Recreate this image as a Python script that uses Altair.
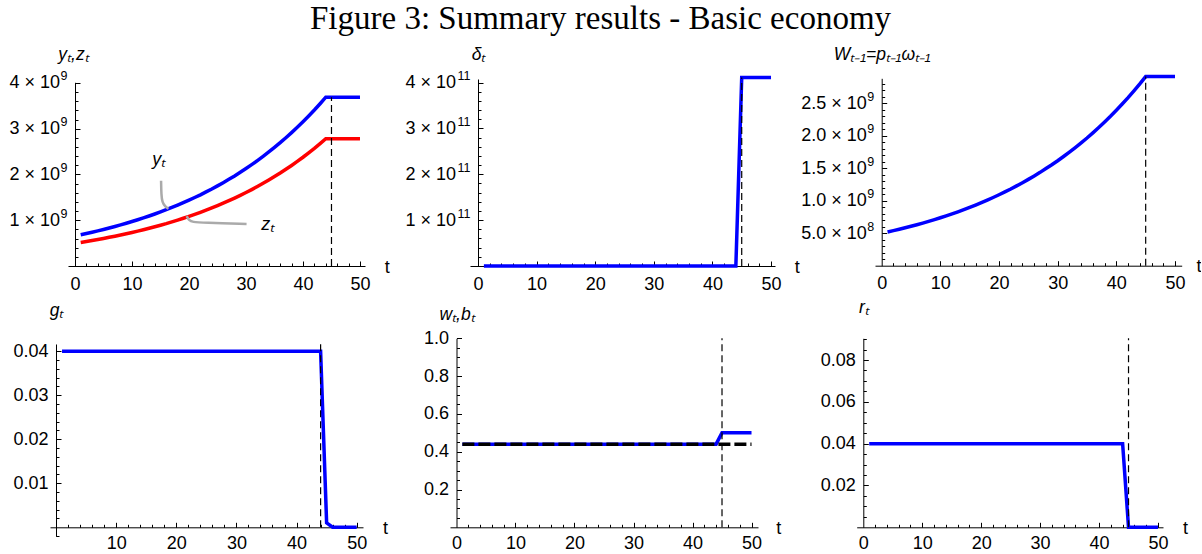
import altair as alt
import pandas as pd

# ---------------- data ----------------
T = list(range(1, 51))

# y_t and z_t, in units of 1e9
Y_T = [0.683, 0.710, 0.739, 0.768, 0.799, 0.831, 0.864, 0.899, 0.935, 0.972,
       1.011, 1.051, 1.093, 1.137, 1.183, 1.230, 1.279, 1.330, 1.384, 1.439,
       1.497, 1.556, 1.619, 1.683, 1.751, 1.821, 1.894, 1.969, 2.048, 2.130,
       2.215, 2.304, 2.396, 2.492, 2.592, 2.695, 2.803, 2.915, 3.032, 3.153,
       3.279, 3.410, 3.547, 3.689, 3.689, 3.689, 3.689, 3.689, 3.689, 3.689]
Z_T = [0.515, 0.536, 0.557, 0.579, 0.602, 0.627, 0.652, 0.678, 0.705, 0.733,
       0.762, 0.793, 0.825, 0.858, 0.892, 0.927, 0.965, 1.003, 1.043, 1.085,
       1.128, 1.174, 1.220, 1.269, 1.320, 1.373, 1.428, 1.485, 1.544, 1.606,
       1.670, 1.737, 1.807, 1.879, 1.954, 2.032, 2.114, 2.198, 2.286, 2.377,
       2.473, 2.571, 2.674, 2.781, 2.781, 2.781, 2.781, 2.781, 2.781, 2.781]
# delta_t, in units of 1e11
DELTA_T = [0, 0, 0, 0, 0, 0, 0, 0, 0, 0,
           0, 0, 0, 0, 0, 0, 0, 0, 0, 0,
           0, 0, 0, 0, 0, 0, 0, 0, 0, 0,
           0, 0, 0, 0, 0, 0, 0, 0, 0, 0,
           0, 0, 0, 0, 4.11, 4.11, 4.11, 4.11, 4.11, 4.11]
# W_{t-1}, in units of 1e9
W_T = [0.518, 0.539, 0.560, 0.583, 0.606, 0.630, 0.655, 0.682, 0.709, 0.737,
       0.767, 0.797, 0.829, 0.863, 0.897, 0.933, 0.970, 1.009, 1.049, 1.091,
       1.135, 1.180, 1.228, 1.277, 1.328, 1.381, 1.436, 1.494, 1.553, 1.615,
       1.680, 1.747, 1.817, 1.890, 1.965, 2.044, 2.126, 2.211, 2.299, 2.391,
       2.487, 2.586, 2.690, 2.797, 2.909, 2.909, 2.909, 2.909, 2.909, 2.909]
G_T = [0.04, 0.04, 0.04, 0.04, 0.04, 0.04, 0.04, 0.04, 0.04, 0.04,
       0.04, 0.04, 0.04, 0.04, 0.04, 0.04, 0.04, 0.04, 0.04, 0.04,
       0.04, 0.04, 0.04, 0.04, 0.04, 0.04, 0.04, 0.04, 0.04, 0.04,
       0.04, 0.04, 0.04, 0.04, 0.04, 0.04, 0.04, 0.04, 0.04, 0.04,
       0.04, 0.04, 0.04, 0.04, 0.001, 0, 0, 0, 0, 0]
SW_T = [0.44, 0.44, 0.44, 0.44, 0.44, 0.44, 0.44, 0.44, 0.44, 0.44,
        0.44, 0.44, 0.44, 0.44, 0.44, 0.44, 0.44, 0.44, 0.44, 0.44,
        0.44, 0.44, 0.44, 0.44, 0.44, 0.44, 0.44, 0.44, 0.44, 0.44,
        0.44, 0.44, 0.44, 0.44, 0.44, 0.44, 0.44, 0.44, 0.44, 0.44,
        0.44, 0.44, 0.44, 0.44, 0.50, 0.50, 0.50, 0.50, 0.50, 0.50]
B_T = [0.44, 0.44, 0.44, 0.44, 0.44, 0.44, 0.44, 0.44, 0.44, 0.44,
       0.44, 0.44, 0.44, 0.44, 0.44, 0.44, 0.44, 0.44, 0.44, 0.44,
       0.44, 0.44, 0.44, 0.44, 0.44, 0.44, 0.44, 0.44, 0.44, 0.44,
       0.44, 0.44, 0.44, 0.44, 0.44, 0.44, 0.44, 0.44, 0.44, 0.44,
       0.44, 0.44, 0.44, 0.44, 0.44, 0.44, 0.44, 0.44, 0.44, 0.44]
R_T = [0.04, 0.04, 0.04, 0.04, 0.04, 0.04, 0.04, 0.04, 0.04, 0.04,
       0.04, 0.04, 0.04, 0.04, 0.04, 0.04, 0.04, 0.04, 0.04, 0.04,
       0.04, 0.04, 0.04, 0.04, 0.04, 0.04, 0.04, 0.04, 0.04, 0.04,
       0.04, 0.04, 0.04, 0.04, 0.04, 0.04, 0.04, 0.04, 0.04, 0.04,
       0.04, 0.04, 0.04, 0.04, 0, 0, 0, 0, 0, 0]

# vertical dashed marker per panel: time and top value
SWITCH_T = [45, 45, 45, 44, 45, 45]
SWITCH_TOP = [3.689, 4.11, 2.909, 0.0417, 1.0, 0.0904]

# callout labels in panel 1
CALLOUT_TEXT = ["yₜ", "zₜ"]
CALLOUT_T = [14.7, 33.8]
CALLOUT_V = [2.21, 0.79]
LEADER_ID = ["y", "y", "y", "y", "y", "z", "z", "z", "z", "z"]
LEADER_T = [15.1, 15.15, 15.3, 15.8, 16.4, 19.6, 20.0, 20.6, 22.5, 30.1]
LEADER_V = [1.865, 1.55, 1.40, 1.30, 1.25, 1.09, 1.0, 0.96, 0.945, 0.918]

# tick labels (mantissa part and exponent part)
X_VALS = [0, 10, 20, 30, 40, 50]
X_VALS_G = [10, 20, 30, 40, 50]
Y1_VALS = [1, 2, 3, 4]
Y1_LABS = ["1 × 10", "2 × 10", "3 × 10", "4 × 10"]
Y1_EXP = ["9", "9", "9", "9"]
Y2_VALS = [1, 2, 3, 4]
Y2_LABS = ["1 × 10", "2 × 10", "3 × 10", "4 × 10"]
Y2_EXP = ["11", "11", "11", "11"]
Y3_VALS = [0.5, 1.0, 1.5, 2.0, 2.5]
Y3_LABS = ["5.0 × 10", "1.0 × 10", "1.5 × 10", "2.0 × 10", "2.5 × 10"]
Y3_EXP = ["8", "9", "9", "9", "9"]
Y4_VALS = [0.01, 0.02, 0.03, 0.04]
Y4_LABS = ["0.01", "0.02", "0.03", "0.04"]
Y5_VALS = [0.2, 0.4, 0.6, 0.8, 1.0]
Y5_LABS = ["0.2", "0.4", "0.6", "0.8", "1.0"]
Y6_VALS = [0.02, 0.04, 0.06, 0.08]
Y6_LABS = ["0.02", "0.04", "0.06", "0.08"]

TITLE = "Figure 3: Summary results - Basic economy"

# ---------------- styling ----------------
FONT = "Liberation Sans"
LFS = 18
EFS = 12.5
TFS = 17.5
MAJ, MIN = 5, 3
BLUE, RED = "#0000ff", "#ff0000"


def steps(lo, hi, step, skip):
    out = []
    n = int(round((hi - lo) / step))
    for i in range(n + 1):
        v = round(lo + i * step, 6)
        if all(abs(v - s) > 1e-9 for s in skip):
            out.append(v)
    return out


def lexpr(vals, labs):
    e = "''"
    for v, l in reversed(list(zip(vals, labs))):
        e = f"datum.value == {v} ? '{l}' : ({e})"
    return e


X_MAJ = [10, 20, 30, 40, 50]
X_MIN = steps(2, 48, 2, X_MAJ)


def tick_axis(orient, vals, size, off):
    return alt.Axis(orient=orient, offset=off, values=vals, domain=False, labels=False,
                    ticks=True, tickSize=size, tickColor="black", tickWidth=1,
                    grid=False, title=None)


def panel(df_main, content, c):
    xs = alt.Scale(domain=c["xdom"], range=c["xrng"], nice=False, zero=False)
    ys = alt.Scale(domain=c["ydom"], range=c["yrng"], nice=False, zero=False)
    xkw = dict(orient="bottom", offset=c["xoff"], values=c["xv"], format="d",
               ticks=False, tickSize=0, domain=True, domainColor="black", domainWidth=1,
               grid=False, labelFont=FONT, labelFontSize=LFS, labelColor="black",
               labelPadding=c.get("xlp", 9), labelFlush=False, labelOverlap=False,
               title="t", titleFont=FONT, titleFontSize=LFS, titleFontWeight="normal",
               titleColor="black", titleX=c["tx"], titleY=6, titleAlign=c.get("ta", "center"),
               titleBaseline="alphabetic", titleAngle=0)
    exp = c.get("ye")
    pad = 8
    if exp:
        pad = 8 + 0.556 * EFS * max(len(s) for s in exp) + 0.5
    ykw = dict(orient="left", offset=c["yoff"], values=c["yv"], labelExpr=lexpr(c["yv"], c["yl"]),
               ticks=False, tickSize=0, domain=True, domainColor="black", domainWidth=1,
               grid=False, labelFont=FONT, labelFontSize=LFS, labelColor="black",
               labelPadding=pad, labelFlush=False, labelOverlap=False,
               title=c["yt"], titleFont=FONT, titleFontSize=TFS, titleFontStyle="italic",
               titleFontWeight="normal", titleColor="black", titleX=c.get("ytx", 0),
               titleY=c["yty"], titleAngle=0, titleAlign="center", titleBaseline="alphabetic")
    base = alt.Chart(df_main).mark_point(opacity=0)
    layers = [
        base.encode(x=alt.X("t:Q", scale=xs, axis=alt.Axis(**xkw)),
                    y=alt.Y("v:Q", scale=ys, axis=alt.Axis(**ykw))),
        base.encode(x=alt.X("t:Q", scale=xs, axis=tick_axis("bottom", X_MAJ, MAJ, c["xoff"] - MAJ)),
                    y=alt.Y("v:Q", scale=ys, axis=tick_axis("left", c["ymaj"], MAJ, c["yoff"] - MAJ))),
        base.encode(x=alt.X("t:Q", scale=xs, axis=tick_axis("bottom", X_MIN, MIN, c["xoff"] - MIN)),
                    y=alt.Y("v:Q", scale=ys, axis=tick_axis("left", c["ymin"], MIN, c["yoff"] - MIN))),
    ]
    if exp:
        eax = alt.Axis(orient="left", offset=c["yoff"], values=c["yv"], labelExpr=lexpr(c["yv"], exp),
                       ticks=False, tickSize=0, domain=False, grid=False, labelFont=FONT,
                       labelFontSize=EFS, labelColor="black", labelPadding=8, labelOffset=-7,
                       labelFlush=False, labelOverlap=False, title=None)
        layers.append(base.encode(x=alt.X("t:Q", scale=xs, axis=None),
                                  y=alt.Y("v:Q", scale=ys, axis=eax)))
    layers += [f(xs, ys) for f in content]
    return (alt.layer(*layers)
            .resolve_axis(x="independent", y="independent")
            .properties(width=c["w"], height=c["h"]))


def line(values, color, width=3.5, dash=None):
    df = pd.DataFrame({"t": T, "v": values})

    def f(xs, ys):
        kw = dict(color=color, strokeWidth=width, strokeCap="butt")
        if dash:
            kw["strokeDash"] = dash
        return alt.Chart(df).mark_line(**kw).encode(
            x=alt.X("t:Q", scale=xs, axis=None), y=alt.Y("v:Q", scale=ys, axis=None))
    return f


def vrule(i):
    df = pd.DataFrame({"t": [SWITCH_T[i]], "v0": [0], "v1": [SWITCH_TOP[i]]})

    def f(xs, ys):
        return alt.Chart(df).mark_rule(color="black", strokeWidth=1.2, strokeDash=[7, 4]).encode(
            x=alt.X("t:Q", scale=xs, axis=None),
            y=alt.Y("v0:Q", scale=ys, axis=None), y2="v1:Q")
    return f


def leaders():
    df = pd.DataFrame({"id": LEADER_ID, "t": LEADER_T, "v": LEADER_V})

    def f(xs, ys):
        return alt.Chart(df).mark_line(color="#aaaaaa", strokeWidth=2.5, interpolate="basis").encode(
            x=alt.X("t:Q", scale=xs, axis=None), y=alt.Y("v:Q", scale=ys, axis=None),
            detail="id:N")
    return f


def callouts():
    df = pd.DataFrame({"txt": CALLOUT_TEXT, "t": CALLOUT_T, "v": CALLOUT_V})

    def f(xs, ys):
        return alt.Chart(df).mark_text(font=FONT, fontSize=18, fontStyle="italic", color="black",
                                       align="center", baseline="alphabetic").encode(
            x=alt.X("t:Q", scale=xs, axis=None), y=alt.Y("v:Q", scale=ys, axis=None), text="txt:N")
    return f


def dfm(values):
    return pd.DataFrame({"t": T, "v": values})


p1 = panel(dfm(Y_T), [line(Y_T, BLUE), line(Z_T, RED), vrule(0), leaders(), callouts()], dict(
    w=400, h=250, xdom=[-1.23, 50.88], xrng=[68, 365], ydom=[0, 4.015], yrng=[227, 43.3],
    xoff=-23, yoff=-75, xv=X_VALS, tx=386.7, yv=Y1_VALS, yl=Y1_LABS, ye=Y1_EXP,
    yt="yₜ,zₜ", yty=20.7, ytx=-2,
    ymaj=Y1_VALS, ymin=steps(0.2, 3.8, 0.2, Y1_VALS)))

p2 = panel(dfm(DELTA_T), [line(DELTA_T, BLUE), vrule(1)], dict(
    w=400, h=250, xdom=[-1.37, 50.68], xrng=[70, 375], ydom=[0, 4.078], yrng=[227, 40],
    xoff=-23, yoff=-78, xv=X_VALS, tx=396.7, yv=Y2_VALS, yl=Y2_LABS, ye=Y2_EXP,
    yt="δₜ", yty=20.7,
    ymaj=Y2_VALS, ymin=steps(0.2, 3.8, 0.2, Y2_VALS)))

p3 = panel(dfm(W_T), [line(W_T, BLUE), vrule(2)], dict(
    w=400, h=250, xdom=[-1.14, 51.14], xrng=[75, 381.7], ydom=[0, 2.883], yrng=[226.7, 39.3],
    xoff=-23.3, yoff=-81.7, xv=X_VALS, tx=401, ta="right", yv=Y3_VALS, yl=Y3_LABS, ye=Y3_EXP,
    yt="Wₜ₋₁=pₜ₋₁ωₜ₋₁", yty=20,
    ymaj=Y3_VALS, ymin=steps(0.1, 2.8, 0.1, Y3_VALS)))

p4 = panel(dfm(G_T), [line(G_T, BLUE), vrule(3)], dict(
    w=400, h=264, xdom=[-1.0, 51.05], xrng=[50, 363], ydom=[-0.00205, 0.04166], yrng=[247.3, 55],
    xoff=-25.7, yoff=-56, xv=X_VALS_G, xlp=7, tx=385, yv=Y4_VALS, yl=Y4_LABS, yt="gₜ", yty=26,
    ymaj=Y4_VALS, ymin=steps(-0.002, 0.038, 0.002, Y4_VALS + [0.0])))

p5 = panel(dfm(SW_T), [line(SW_T, BLUE), line(B_T, "black", 3.5, [12, 4]), vrule(4)], dict(
    w=400, h=264, xdom=[-1.1, 51.1], xrng=[50, 358], ydom=[0, 1.0], yrng=[238.3, 49.3],
    xoff=-25.7, yoff=-56.5, xv=X_VALS, xlp=7, tx=378.3, yv=Y5_VALS, yl=Y5_LABS, yt="wₜ,bₜ", yty=30.7,
    ymaj=Y5_VALS, ymin=steps(0.05, 0.95, 0.05, Y5_VALS)))

p6 = panel(dfm(R_T), [line(R_T, BLUE), vrule(5)], dict(
    w=400, h=264, xdom=[-1.12, 50.85], xrng=[56.7, 363], ydom=[0, 0.0904], yrng=[238.3, 49.3],
    xoff=-25.7, yoff=-63.3, xv=X_VALS, xlp=7, tx=385, yv=Y6_VALS, yl=Y6_LABS, yt="rₜ", yty=23,
    ymaj=Y6_VALS, ymin=steps(0.005, 0.09, 0.005, Y6_VALS)))

chart = alt.concat(p1, p2, p3, p4, p5, p6, columns=3, spacing=0, bounds="flush", align="each").properties(
    title=alt.TitleParams(TITLE, font="Liberation Serif", fontSize=33, fontWeight="normal",
                          color="black", anchor="middle", offset=3),
    padding={"top": 3, "left": 0, "right": 0, "bottom": 0},
).configure_view(stroke=None)

chart.save("out.html", embed_options={"renderer": "svg", "actions": False})
